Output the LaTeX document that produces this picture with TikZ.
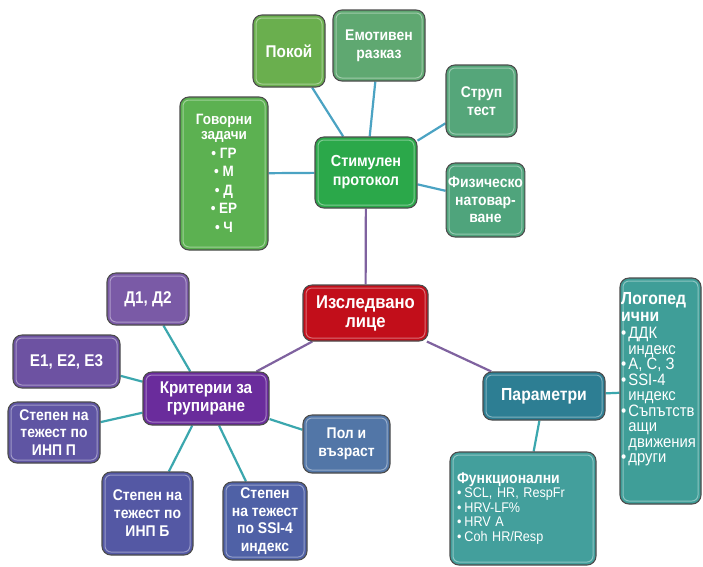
\documentclass[tikz,border=0pt]{standalone}
\usepackage{fontspec}
\setmainfont{Liberation Sans}[FakeStretch=0.9]
\usetikzlibrary{backgrounds}
\definecolor{cPokoy}{HTML}{6AAF4E}
\definecolor{cEmot}{HTML}{5FA871}
\definecolor{cStrup}{HTML}{55A67A}
\definecolor{cFiz}{HTML}{4FA47C}
\definecolor{cStim}{HTML}{2BA84A}
\definecolor{cGovor}{HTML}{5CB151}
\definecolor{cIsl}{HTML}{C20E1A}
\definecolor{cKrit}{HTML}{6A2C9C}
\definecolor{cDd}{HTML}{7A5AA6}
\definecolor{cEe}{HTML}{6D52A2}
\definecolor{cInnp}{HTML}{5F55A3}
\definecolor{cInnb}{HTML}{5458A4}
\definecolor{cSsi}{HTML}{4F61A6}
\definecolor{cPol}{HTML}{5276A7}
\definecolor{cParam}{HTML}{2D7E93}
\definecolor{cLogo}{HTML}{3F9E98}
\definecolor{cFunc}{HTML}{439F9C}
\definecolor{lineG}{HTML}{4BA3C3}
\definecolor{lineP}{HTML}{7F629F}
\definecolor{lineT}{HTML}{3BA7AE}
\begin{document}
\begin{tikzpicture}[x=1pt,y=-1pt,
  box/.style={draw=black!70, line width=1.1pt, rounded corners=9pt, text=white,
    font=\bfseries\fontsize{15.5}{18}\selectfont, align=center, inner sep=2pt,
    path picture={\draw[white, opacity=0.4, line width=1pt, rounded corners=6pt]
      ([shift={(3pt,-3pt)}]path picture bounding box.north west) rectangle
      ([shift={(-3pt,3pt)}]path picture bounding box.south east);}},
  bigtxt/.style={font=\bfseries\fontsize{17}{19}\selectfont},
  lnG/.style={draw=lineG, line width=2.2pt},
  lnP/.style={draw=lineP, line width=2.2pt},
  lnT/.style={draw=lineT, line width=2.2pt}]
\useasboundingbox (0,0) rectangle (703,566);

% green cluster
\node[box, bigtxt, fill=cPokoy, minimum width=72pt, minimum height=72pt] (pokoy) at (289,51) {Покой};
\node[box, fill=cEmot, minimum width=92pt, minimum height=71pt] (emot) at (379,45.5) {Емотивен\\разказ};
\node[box, fill=cStrup, minimum width=71pt, minimum height=72pt] (strup) at (481.5,101) {Струп\\тест};
\node[box, fill=cFiz, minimum width=73pt, minimum height=74pt, font=\bfseries\fontsize{15.5}{17.5}\selectfont] (fiz) at (485.5,200) {Физическо\\натовар-\\ване};
\node[box, fill=cStim, minimum width=102pt, minimum height=71pt, font=\bfseries\fontsize{16}{19}\selectfont] (stim) at (366,172.5) {Стимулен\\протокол};
\node[box, fill=cGovor, minimum width=88pt, minimum height=153pt, font=\bfseries\fontsize{15}{15}\selectfont] (govor) at (224,173.5)
  {Говорни\\задачи\\[3.5pt]•\ ГР\\[3.5pt]•\ М\\[3.5pt]•\ Д\\[3.5pt]•\ ЕР\\[3.5pt]•\ Ч};

% centre
\node[box, fill=cIsl, minimum width=125pt, minimum height=56pt, font=\bfseries\fontsize{18.5}{19}\selectfont] (isl) at (365.5,313) {Изследвано\\лице};

% parameters
\node[box, fill=cParam, minimum width=122pt, minimum height=48pt, font=\bfseries\fontsize{17.5}{19}\selectfont] (param) at (544,396) {Параметри};
\node[box, fill=cLogo, minimum width=81pt, minimum height=226pt] (logo) at (660.5,391) {};
\node[text=white, align=left, anchor=north west, inner sep=0pt, font=\bfseries\fontsize{17.5}{17.5}\selectfont] (logotitle) at (621,292)
  {Логопед\\ични};
\node[text=white, align=left, anchor=north west, inner sep=0pt, font=\fontsize{16.5}{15.5}\selectfont] (logobody) at (621,327)
  {•\hspace{2pt}ДДК\\\phantom{•}\hspace{2pt}индекс\\•\hspace{2pt}А, С, З\\•\hspace{2pt}SSI-4\\\phantom{•}\hspace{2pt}индекс\\•\hspace{2pt}Съпътств\\\phantom{•}\hspace{2pt}ащи\\\phantom{•}\hspace{2pt}движения\\•\hspace{2pt}други};
\node[box, fill=cFunc, minimum width=146pt, minimum height=113pt, text width=132pt, inner xsep=7pt, align=left, font=\fontsize{14}{14.5}\selectfont] (func) at (523,508.5)
  {\textbf{\fontsize{15.5}{14.5}\selectfont Функционални}\\•\hspace{3pt}SCL, HR, RespFr\\•\hspace{3pt}HRV-LF\%\\•\hspace{3pt}HRV A\\•\hspace{3pt}Coh HR/Resp};

% purple cluster
\node[box, fill=cKrit, minimum width=126pt, minimum height=53pt, font=\bfseries\fontsize{17}{18}\selectfont] (krit) at (206,398.5) {Критерии за\\групиране};
\node[box, bigtxt, fill=cDd, minimum width=82pt, minimum height=52pt] (d12) at (148,299) {Д1, Д2};
\node[box, bigtxt, fill=cEe, minimum width=107pt, minimum height=53pt] (e123) at (66.5,361.5) {Е1, Е2, Е3};
\node[box, fill=cInnp, minimum width=92pt, minimum height=61pt, font=\bfseries\fontsize{15.5}{17.5}\selectfont] (innp) at (54,432.5) {Степен на\\тежест по\\ИНП П};
\node[box, fill=cInnb, minimum width=91pt, minimum height=83pt, font=\bfseries\fontsize{15.5}{18}\selectfont] (innb) at (147.5,513.5) {Степен на\\тежест по\\ИНП Б};
\node[box, fill=cSsi, minimum width=84pt, minimum height=78pt, font=\bfseries\fontsize{15.5}{17.5}\selectfont] (ssi) at (265,521) {Степен\\на тежест\\по SSI-4\\индекс};
\node[box, fill=cPol, minimum width=87pt, minimum height=58pt] (pol) at (346.5,444) {Пол и\\възраст};

\begin{pgfonlayer}{background}
  \fill[white] (0,0) rectangle (703,566);
  \draw[lnG] (pokoy) -- (stim);
  \draw[lnG] (emot) -- (stim);
  \draw[lnG] (strup) -- (stim);
  \draw[lnG] (fiz) -- (stim);
  \draw[lnG] (govor) -- (stim);
  \draw[lnP] (stim) -- (isl);
  \draw[lnP] (isl) -- (krit);
  \draw[lnP] (isl) -- (param);
  \draw[lnT] (param) -- (logo);
  \draw[lnT] (param) -- (func);
  \draw[lnT] (krit) -- (d12);
  \draw[lnT] (krit) -- (e123);
  \draw[lnT] (krit) -- (innp);
  \draw[lnT] (krit) -- (innb);
  \draw[lnT] (krit) -- (ssi);
  \draw[lnT] (krit) -- (pol);
\end{pgfonlayer}
\end{tikzpicture}
\end{document}
